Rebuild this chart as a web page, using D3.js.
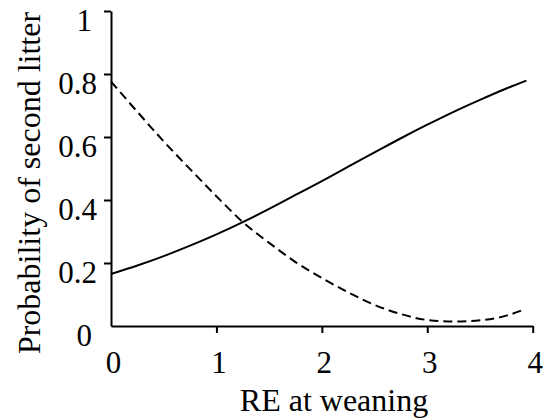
<!DOCTYPE html>
<html><head><meta charset="utf-8"></head>
<body style="margin:0">
<script src="https://cdn.jsdelivr.net/npm/d3@7/dist/d3.min.js"></script>
<script>
  // RE at weaning (x) and the two fitted probabilities
  const solidX = [0, 0.25, 0.5, 0.75, 1, 1.25, 1.5, 1.75, 2, 2.25, 2.5, 2.75, 3, 3.25, 3.5, 3.75, 3.94];
  const solidY = [0.165, 0.192, 0.222, 0.255, 0.291, 0.33, 0.372, 0.416, 0.46, 0.506, 0.551, 0.596, 0.639, 0.68, 0.718, 0.754, 0.779];

  const dashX = [0, 0.25, 0.5, 0.75, 1, 1.25, 1.5, 1.75, 2, 2.25, 2.5, 2.75, 3, 3.25, 3.5, 3.75, 3.9];
  const dashY = [0.776, 0.68, 0.586, 0.498, 0.412, 0.33, 0.264, 0.203, 0.152, 0.107, 0.067, 0.038, 0.019, 0.014, 0.018, 0.033, 0.05];

  const xTicks = [0, 1, 2, 3, 4];
  const yTicks = [0, 0.2, 0.4, 0.6, 0.8, 1];
  const xTitle = "RE at weaning";
  const yTitle = "Probability of second litter";

  const width = 553, height = 419;
  const fontFam = "Liberation Serif";

  const svg = d3.select("body").append("svg")
    .attr("width", width)
    .attr("height", height);

  const x = d3.scaleLinear().domain([0, 4]).range([111, 532.7]);
  const y = d3.scaleLinear().domain([0, 1]).range([326, 11]);

  // y axis
  const yAxis = svg.append("g")
    .attr("transform", "translate(111,0)")
    .call(d3.axisLeft(y).tickValues(yTicks).tickSize(7).tickSizeOuter(0)
      .tickFormat(d => String(+d.toFixed(1))));
  // x axis
  const xAxis = svg.append("g")
    .attr("transform", "translate(0,326)")
    .call(d3.axisBottom(x).tickValues(xTicks).tickSize(7).tickSizeOuter(0)
      .tickFormat(d3.format("d")));

  [yAxis, xAxis].forEach(a => {
    a.attr("font-family", null).attr("font-size", null);
    a.select(".domain").attr("stroke", "#000").attr("stroke-width", 2);
    a.selectAll(".tick line").attr("stroke", "#000").attr("stroke-width", 2)
      .filter(d => d === 0).remove();
    a.selectAll(".tick text")
      .attr("font-family", fontFam)
      .attr("font-size", 31)
      .attr("fill", "#000")
      .attr("dy", null);
  });
  // labels sit a little below their ticks, whole numbers a bit further left
  yAxis.selectAll(".tick text")
    .attr("y", 19)
    .attr("x", d => Number.isInteger(d) ? -19 : -14);
  xAxis.selectAll(".tick text").attr("y", 47).attr("dx", 2);

  const line = d3.line()
    .x(d => x(d[0]))
    .y(d => y(d[1]))
    .curve(d3.curveMonotoneX);

  svg.append("path")
    .datum(solidX.map((v, i) => [v, solidY[i]]))
    .attr("fill", "none")
    .attr("stroke", "#000")
    .attr("stroke-width", 2)
    .attr("d", line);

  svg.append("path")
    .datum(dashX.map((v, i) => [v, dashY[i]]))
    .attr("fill", "none")
    .attr("stroke", "#000")
    .attr("stroke-width", 2)
    .attr("stroke-dasharray", "9,5")
    .attr("d", line);

  // titles
  svg.append("text")
    .attr("x", 334)
    .attr("y", 411)
    .attr("text-anchor", "middle")
    .attr("font-family", fontFam)
    .attr("font-size", 32)
    .text(xTitle);

  svg.append("text")
    .attr("transform", "translate(40,183) rotate(-90)")
    .attr("text-anchor", "middle")
    .attr("font-family", fontFam)
    .attr("font-size", 32)
    .text(yTitle);
</script>
</body>
</html>
